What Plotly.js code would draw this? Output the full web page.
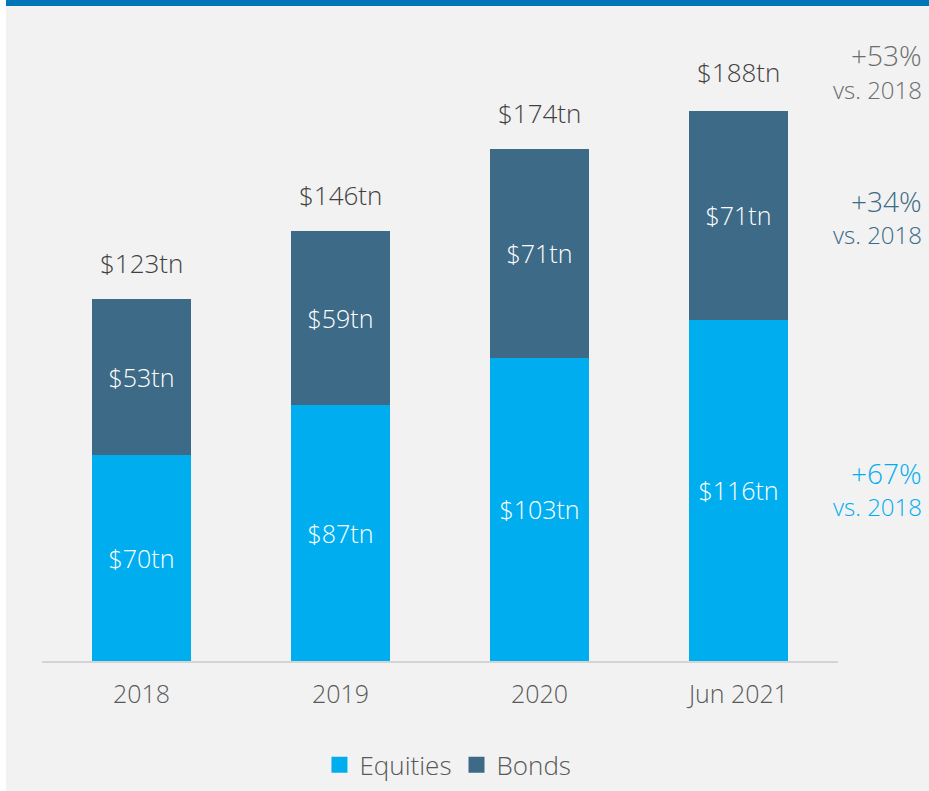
<!DOCTYPE html>
<html>
<head>
<meta charset="utf-8">
<script src="https://cdn.plot.ly/plotly-3.0.1.min.js"></script>
<style>
  body { margin: 0; background: #ffffff; }
  #band { position: absolute; left: 6px; top: 0; width: 923px; height: 6px; background: #0075b8; z-index: 2; }
  #plotdiv { position: absolute; left: 6px; top: 0; width: 923px; height: 791px; }
</style>
</head>
<body>
<div id="band"></div>
<div id="plotdiv"></div>
<script>
var years = ['2018', '2019', '2020', 'Jun 2021'];
var equities = [70, 87, 103, 116];
var bonds = [53, 59, 71, 71];
var totals = [123, 146, 174, 188];

var changeLabels = ['+53%', '+34%', '+67%'];
var changeColors = ['#6d6d6d', '#3d6a86', '#00aeef'];
var changeY = [0.976, 0.741, 0.303];

var font = '"Open Sans", "Noto Sans", sans-serif';
var fs = 24;

var xpos = years.map(function(d, i){ return i; });

function tn(v){
  return '$' + v + 'tn';
}

var equityTrace = {
  x: xpos,
  y: equities,
  type: 'bar',
  name: 'Equities',
  showlegend: false,
  marker: {color: '#00aeef'},
  text: equities.map(tn),
  textposition: 'inside',
  insidetextanchor: 'middle',
  textfont: {color: '#ffffff', size: 25, family: font, weight: 300},
  hoverinfo: 'skip'
};

var bondTrace = {
  x: xpos,
  y: bonds,
  type: 'bar',
  name: 'Bonds',
  showlegend: false,
  marker: {color: '#3d6a86'},
  text: bonds.map(tn),
  textposition: 'inside',
  insidetextanchor: 'middle',
  textfont: {color: '#ffffff', size: 25, family: font, weight: 300},
  hoverinfo: 'skip'
};

// legend entries with bigger square keys
function legendKey(name, color){
  return {
    x: [null], y: [null], type: 'scatter', mode: 'markers', name: name,
    marker: {symbol: 'square', size: 16, color: color},
    hoverinfo: 'skip'
  };
}

var annotations = [];
for (var i = 0; i < years.length; i++) {
  annotations.push({
    x: xpos[i], y: totals[i], xref: 'x', yref: 'y',
    text: tn(totals[i]), showarrow: false,
    yanchor: 'bottom', yshift: 16,
    font: {size: 26, color: '#404040', family: font, weight: 300}
  });
}
for (var j = 0; j < changeLabels.length; j++) {
  annotations.push({
    x: 1.108, y: changeY[j], xref: 'paper', yref: 'paper',
    text: changeLabels[j], showarrow: false,
    xanchor: 'right', yanchor: 'middle',
    font: {size: 28, color: changeColors[j], family: font, weight: 300}
  });
  annotations.push({
    x: 1.108, y: changeY[j] - 0.055, xref: 'paper', yref: 'paper',
    text: 'vs. 2018', showarrow: false,
    xanchor: 'right', yanchor: 'middle',
    font: {size: 24, color: changeColors[j], family: font, weight: 300}
  });
}

var layout = {
  barmode: 'stack',
  bargap: 0.5,
  paper_bgcolor: '#f2f2f2',
  plot_bgcolor: '#f2f2f2',
  margin: {l: 36, r: 91, t: 40, b: 130},
  font: {family: font, color: '#595959', size: fs, weight: 300},
  xaxis: {
    range: [-0.5, 3.5],
    tickvals: xpos, ticktext: years,
    showline: true, linecolor: '#d4d4d4', linewidth: 2,
    showgrid: false, zeroline: false,
    ticks: 'outside', ticklen: 10, tickcolor: 'rgba(0,0,0,0)',
    tickfont: {size: 25, color: '#595959', family: font, weight: 300},
    automargin: false,
    fixedrange: true
  },
  yaxis: {
    range: [0, 211], visible: false, showgrid: false, zeroline: false,
    fixedrange: true
  },
  showlegend: true,
  legend: {
    orientation: 'h', x: 0.51, xanchor: 'center',
    yref: 'container', y: 0.033, yanchor: 'middle',
    traceorder: 'normal',
    font: {size: 26, color: '#595959', family: font, weight: 300},
    bgcolor: 'rgba(0,0,0,0)'
  },
  annotations: annotations
};

Plotly.newPlot('plotdiv', [equityTrace, bondTrace, legendKey('Equities', '#00aeef'), legendKey('Bonds', '#3d6a86')], layout, {displayModeBar: false, staticPlot: true});
</script>
</body>
</html>
